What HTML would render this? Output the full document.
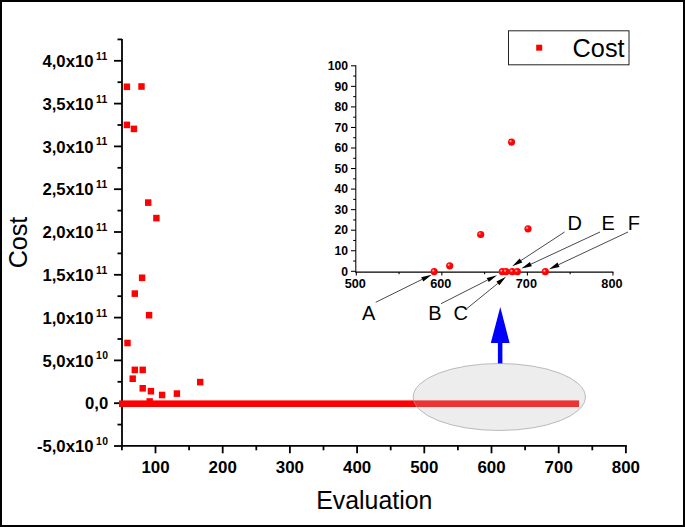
<!DOCTYPE html>
<html><head><meta charset="utf-8"><title>Cost</title>
<style>
html,body{margin:0;padding:0;background:#fff;}
body{width:685px;height:527px;overflow:hidden;}
svg{display:block;}
text{font-family:"Liberation Sans",sans-serif;fill:#000;}
.b{font-weight:bold;}
</style></head><body>
<svg width="685" height="527" viewBox="0 0 685 527">
<defs>
<radialGradient id="ball" cx="0.38" cy="0.38" r="0.62" fx="0.36" fy="0.36">
<stop offset="0" stop-color="#ffdcdc"/><stop offset="0.16" stop-color="#ff6a6a"/><stop offset="0.36" stop-color="#ff0808"/><stop offset="1" stop-color="#fa0000"/>
</radialGradient>
</defs>
<rect x="0" y="0" width="685" height="527" fill="#fff"/>
<rect x="1" y="1" width="683" height="525" fill="none" stroke="#000" stroke-width="2"/>

<g stroke="#000" stroke-width="1.8" fill="none" stroke-linecap="butt">
<path d="M122.0 38.9 V446.7"/>
<path d="M121.1 445.8 H626.8"/>
<path d="M114.0 446.00 H122.0"/>
<path d="M117.5 424.60 H122.0"/>
<path d="M114.0 403.20 H122.0"/>
<path d="M117.5 381.80 H122.0"/>
<path d="M114.0 360.40 H122.0"/>
<path d="M117.5 339.00 H122.0"/>
<path d="M114.0 317.60 H122.0"/>
<path d="M117.5 296.20 H122.0"/>
<path d="M114.0 274.80 H122.0"/>
<path d="M117.5 253.40 H122.0"/>
<path d="M114.0 232.00 H122.0"/>
<path d="M117.5 210.60 H122.0"/>
<path d="M114.0 189.20 H122.0"/>
<path d="M117.5 167.80 H122.0"/>
<path d="M114.0 146.40 H122.0"/>
<path d="M117.5 125.00 H122.0"/>
<path d="M114.0 103.60 H122.0"/>
<path d="M117.5 82.20 H122.0"/>
<path d="M114.0 60.80 H122.0"/>
<path d="M117.5 39.40 H122.0"/>
<path d="M155.50 445.8 V453.3"/>
<path d="M189.10 445.8 V450.3"/>
<path d="M222.70 445.8 V453.3"/>
<path d="M256.30 445.8 V450.3"/>
<path d="M289.90 445.8 V453.3"/>
<path d="M323.50 445.8 V450.3"/>
<path d="M357.10 445.8 V453.3"/>
<path d="M390.70 445.8 V450.3"/>
<path d="M424.30 445.8 V453.3"/>
<path d="M457.90 445.8 V450.3"/>
<path d="M491.50 445.8 V453.3"/>
<path d="M525.10 445.8 V450.3"/>
<path d="M558.70 445.8 V453.3"/>
<path d="M592.30 445.8 V450.3"/>
<path d="M625.90 445.8 V453.3"/>
<path d="M121.90 445.8 V450.3"/>
</g>
<text class="b" x="93.5" y="452.10" text-anchor="end" font-size="16.7">-5,0x10</text>
<text class="b" x="96.1" y="445.00" font-size="10.4" letter-spacing="0.3">10</text>
<text class="b" x="108.2" y="409.30" text-anchor="end" font-size="16.7">0,0</text>
<text class="b" x="93.5" y="366.50" text-anchor="end" font-size="16.7">5,0x10</text>
<text class="b" x="96.1" y="359.40" font-size="10.4" letter-spacing="0.3">10</text>
<text class="b" x="93.5" y="323.70" text-anchor="end" font-size="16.7">1,0x10</text>
<text class="b" x="96.1" y="316.60" font-size="10.4" letter-spacing="0.3">11</text>
<text class="b" x="93.5" y="280.90" text-anchor="end" font-size="16.7">1,5x10</text>
<text class="b" x="96.1" y="273.80" font-size="10.4" letter-spacing="0.3">11</text>
<text class="b" x="93.5" y="238.10" text-anchor="end" font-size="16.7">2,0x10</text>
<text class="b" x="96.1" y="231.00" font-size="10.4" letter-spacing="0.3">11</text>
<text class="b" x="93.5" y="195.30" text-anchor="end" font-size="16.7">2,5x10</text>
<text class="b" x="96.1" y="188.20" font-size="10.4" letter-spacing="0.3">11</text>
<text class="b" x="93.5" y="152.50" text-anchor="end" font-size="16.7">3,0x10</text>
<text class="b" x="96.1" y="145.40" font-size="10.4" letter-spacing="0.3">11</text>
<text class="b" x="93.5" y="109.70" text-anchor="end" font-size="16.7">3,5x10</text>
<text class="b" x="96.1" y="102.60" font-size="10.4" letter-spacing="0.3">11</text>
<text class="b" x="93.5" y="66.90" text-anchor="end" font-size="16.7">4,0x10</text>
<text class="b" x="96.1" y="59.80" font-size="10.4" letter-spacing="0.3">11</text>
<text class="b" x="155.50" y="473" text-anchor="middle" font-size="16.9">100</text>
<text class="b" x="222.70" y="473" text-anchor="middle" font-size="16.9">200</text>
<text class="b" x="289.90" y="473" text-anchor="middle" font-size="16.9">300</text>
<text class="b" x="357.10" y="473" text-anchor="middle" font-size="16.9">400</text>
<text class="b" x="424.30" y="473" text-anchor="middle" font-size="16.9">500</text>
<text class="b" x="491.50" y="473" text-anchor="middle" font-size="16.9">600</text>
<text class="b" x="558.70" y="473" text-anchor="middle" font-size="16.9">700</text>
<text class="b" x="625.90" y="473" text-anchor="middle" font-size="16.9">800</text>
<text x="374.3" y="509.2" text-anchor="middle" font-size="24.9">Evaluation</text>
<text transform="translate(27.1 242.5) rotate(-90)" text-anchor="middle" font-size="25.1">Cost</text>
<rect x="119" y="400.4" width="460" height="6.6" fill="#ff0000"/>
<rect x="123.7" y="83.5" width="6.4" height="6.6" fill="#ff0000"/>
<rect x="138.3" y="83.2" width="6.4" height="6.6" fill="#ff0000"/>
<rect x="123.7" y="121.6" width="6.4" height="6.6" fill="#ff0000"/>
<rect x="130.7" y="125.6" width="6.4" height="6.6" fill="#ff0000"/>
<rect x="145.0" y="199.3" width="6.4" height="6.6" fill="#ff0000"/>
<rect x="153.2" y="214.8" width="6.4" height="6.6" fill="#ff0000"/>
<rect x="138.9" y="274.5" width="6.4" height="6.6" fill="#ff0000"/>
<rect x="131.6" y="290.3" width="6.4" height="6.6" fill="#ff0000"/>
<rect x="145.9" y="311.9" width="6.4" height="6.6" fill="#ff0000"/>
<rect x="124.3" y="339.7" width="6.4" height="6.6" fill="#ff0000"/>
<rect x="131.6" y="366.6" width="6.4" height="6.6" fill="#ff0000"/>
<rect x="139.5" y="366.6" width="6.4" height="6.6" fill="#ff0000"/>
<rect x="129.5" y="375.4" width="6.4" height="6.6" fill="#ff0000"/>
<rect x="139.5" y="385.0" width="6.4" height="6.6" fill="#ff0000"/>
<rect x="147.7" y="387.9" width="6.4" height="6.6" fill="#ff0000"/>
<rect x="158.9" y="391.7" width="6.4" height="6.6" fill="#ff0000"/>
<rect x="173.7" y="390.3" width="6.4" height="6.6" fill="#ff0000"/>
<rect x="146.5" y="398.2" width="6.4" height="6.6" fill="#ff0000"/>
<rect x="197.0" y="378.8" width="6.4" height="6.6" fill="#ff0000"/>
<rect x="508.5" y="30.8" width="120.5" height="34" fill="#fff" stroke="#222" stroke-width="1"/>
<rect x="536.2" y="44.7" width="6" height="6" fill="#ff0000"/>
<text x="572.6" y="56.6" font-size="25.3">Cost</text>
<g stroke="#000" stroke-width="1.05" fill="none">
<path d="M355.8 65.30 V272.6"/>
<path d="M355.3 272.1 H613.45"/>
<path d="M351.0 271.30 H355.8"/>
<path d="M353.2 261.03 H355.8"/>
<path d="M351.0 250.75 H355.8"/>
<path d="M353.2 240.48 H355.8"/>
<path d="M351.0 230.20 H355.8"/>
<path d="M353.2 219.93 H355.8"/>
<path d="M351.0 209.65 H355.8"/>
<path d="M353.2 199.38 H355.8"/>
<path d="M351.0 189.10 H355.8"/>
<path d="M353.2 178.82 H355.8"/>
<path d="M351.0 168.55 H355.8"/>
<path d="M353.2 158.28 H355.8"/>
<path d="M351.0 148.00 H355.8"/>
<path d="M353.2 137.72 H355.8"/>
<path d="M351.0 127.45 H355.8"/>
<path d="M353.2 117.18 H355.8"/>
<path d="M351.0 106.90 H355.8"/>
<path d="M353.2 96.62 H355.8"/>
<path d="M351.0 86.35 H355.8"/>
<path d="M353.2 76.07 H355.8"/>
<path d="M351.0 65.80 H355.8"/>
<path d="M356.30 272.1 V275.5"/>
<path d="M399.07 272.1 V274.3"/>
<path d="M441.85 272.1 V275.5"/>
<path d="M484.62 272.1 V274.3"/>
<path d="M527.40 272.1 V275.5"/>
<path d="M570.17 272.1 V274.3"/>
<path d="M612.95 272.1 V275.5"/>
</g>
<text class="b" x="348" y="275.50" text-anchor="end" font-size="12.2">0</text>
<text class="b" x="348" y="254.95" text-anchor="end" font-size="12.2">10</text>
<text class="b" x="348" y="234.40" text-anchor="end" font-size="12.2">20</text>
<text class="b" x="348" y="213.85" text-anchor="end" font-size="12.2">30</text>
<text class="b" x="348" y="193.30" text-anchor="end" font-size="12.2">40</text>
<text class="b" x="348" y="172.75" text-anchor="end" font-size="12.2">50</text>
<text class="b" x="348" y="152.20" text-anchor="end" font-size="12.2">60</text>
<text class="b" x="348" y="131.65" text-anchor="end" font-size="12.2">70</text>
<text class="b" x="348" y="111.10" text-anchor="end" font-size="12.2">80</text>
<text class="b" x="348" y="90.55" text-anchor="end" font-size="12.2">90</text>
<text class="b" x="348" y="70.00" text-anchor="end" font-size="12.2">100</text>
<text class="b" x="355.30" y="287.7" text-anchor="middle" font-size="12.7">500</text>
<text class="b" x="440.85" y="287.7" text-anchor="middle" font-size="12.7">600</text>
<text class="b" x="526.40" y="287.7" text-anchor="middle" font-size="12.7">700</text>
<text class="b" x="611.95" y="287.7" text-anchor="middle" font-size="12.7">800</text>
<path d="M375.7 302.3 L422.3 279.3" stroke="#1a1a1a" stroke-width="0.8" fill="none"/>
<path d="M431.7 274.7 L423.3 281.4 L421.2 277.2 Z" fill="#000"/>
<path d="M441.0 303.7 L487.7 280.0" stroke="#1a1a1a" stroke-width="0.8" fill="none"/>
<path d="M497.1 275.2 L488.8 282.1 L486.7 277.9 Z" fill="#000"/>
<path d="M466.8 308.6 L497.8 283.4" stroke="#1a1a1a" stroke-width="0.8" fill="none"/>
<path d="M506.0 276.8 L499.3 285.2 L496.4 281.6 Z" fill="#000"/>
<path d="M564.6 232.0 L521.0 260.5" stroke="#1a1a1a" stroke-width="0.8" fill="none"/>
<path d="M512.2 266.3 L519.7 258.6 L522.3 262.5 Z" fill="#000"/>
<path d="M600.0 232.0 L530.9 264.2" stroke="#1a1a1a" stroke-width="0.8" fill="none"/>
<path d="M521.4 268.6 L529.9 262.0 L531.9 266.3 Z" fill="#000"/>
<path d="M628.0 232.0 L558.5 264.7" stroke="#1a1a1a" stroke-width="0.8" fill="none"/>
<path d="M549.0 269.2 L557.5 262.6 L559.5 266.9 Z" fill="#000"/>
<circle cx="434.2" cy="271.6" r="3.6" fill="url(#ball)"/>
<circle cx="449.7" cy="265.8" r="3.6" fill="url(#ball)"/>
<circle cx="480.7" cy="234.5" r="3.6" fill="url(#ball)"/>
<circle cx="511.5" cy="142.1" r="3.6" fill="url(#ball)"/>
<circle cx="528" cy="228.8" r="3.6" fill="url(#ball)"/>
<circle cx="502.3" cy="271.7" r="3.6" fill="url(#ball)"/>
<circle cx="506.0" cy="271.7" r="3.6" fill="url(#ball)"/>
<circle cx="512.3" cy="271.7" r="3.6" fill="url(#ball)"/>
<circle cx="517.3" cy="271.7" r="3.6" fill="url(#ball)"/>
<circle cx="545.3" cy="271.7" r="3.6" fill="url(#ball)"/>
<text x="362.0" y="319.8" font-size="20">A</text>
<text x="428.3" y="320.4" font-size="20">B</text>
<text x="453.6" y="320.4" font-size="20">C</text>
<text x="567.5" y="230.2" font-size="20">D</text>
<text x="601.6" y="230.2" font-size="20">E</text>
<text x="627.8" y="230.2" font-size="20">F</text>
<rect x="497.9" y="342" width="4.5" height="21.8" fill="#0000ff"/>
<path d="M500.3 307.0 L509.6 343.0 L490.8 343.0 Z" fill="#0000ff"/>
<ellipse cx="499.3" cy="397.0" rx="86.1" ry="33.5" fill="rgb(190,190,190)" fill-opacity="0.27" stroke="#a0a0a0" stroke-width="0.7"/>
</svg></body></html>
